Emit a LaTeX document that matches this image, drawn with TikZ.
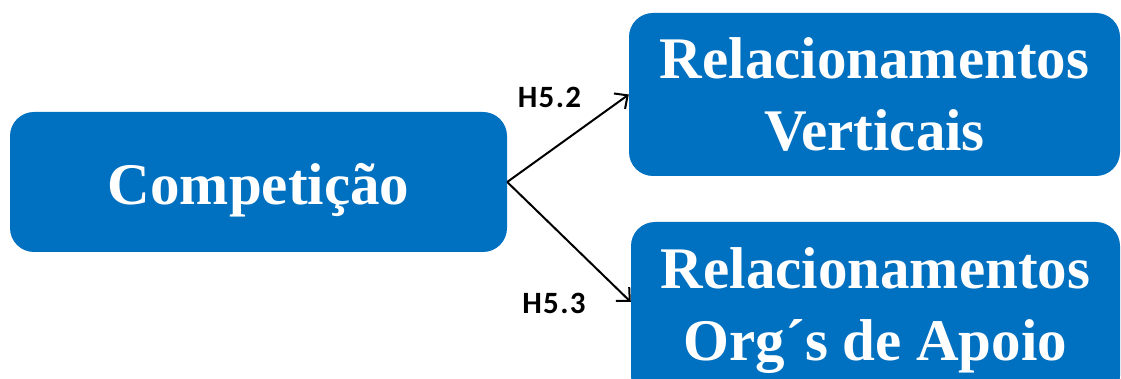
\documentclass[tikz,border=0pt]{standalone}
\usepackage{fontspec}
\setmainfont{Liberation Serif}
\newfontfamily\labelfont[LetterSpace=4.5]{Carlito}
\usetikzlibrary{arrows.meta}
\definecolor{boxblue}{HTML}{0070C0}
\tikzset{
  blockbox/.style={rectangle, rounded corners=24pt, fill=boxblue, draw=none,
    text=white, inner sep=0pt, align=center,
    font=\fontsize{59}{72}\selectfont\bfseries},
  hyplabel/.style={font=\labelfont\bfseries\fontsize{31}{31}\selectfont, inner sep=0pt, anchor=base},
  link/.style={draw=black, line width=2pt, -{Straight Barb[length=10pt,width=19pt,line width=2pt]}}
}
\begin{document}
\begin{tikzpicture}[x=1pt,y=-1pt]
  \useasboundingbox (0,0) rectangle (1121,379);
  \fill[white] (0,0) rectangle (1121,379);
  \node[blockbox, minimum width=497pt, minimum height=140pt, text height=46pt, text depth=0pt] (comp) at (258.5,182) {Competição};
  \node[blockbox, minimum width=491pt, minimum height=163pt] (vert) at (874.5,94.5) {Relacionamentos\\Verticais};
  \node[blockbox, minimum width=489pt, minimum height=178pt] (apoio) at (875.5,311) {Relacionamentos\\Org´s de Apoio};
  \draw[link] (comp.east) -- (vert.west);
  \draw[link, shorten >=0pt] (comp.east) -- ([yshift=9pt]apoio.west);
  \node[hyplabel] (h52) at (549.5,108) {H5.2};
  \node[hyplabel] (h53) at (554,313) {H5.3};
\end{tikzpicture}
\end{document}
